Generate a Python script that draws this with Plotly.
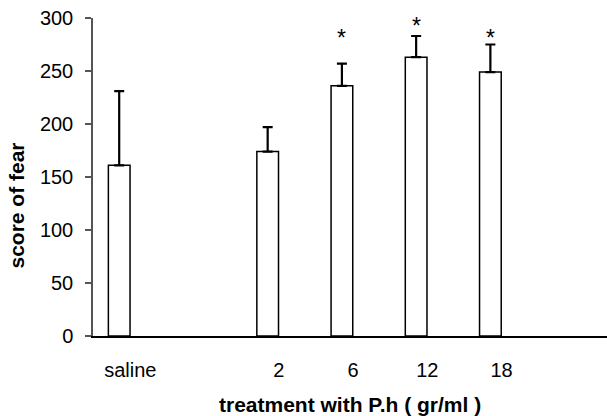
import plotly.graph_objects as go

# Data
categories = ["saline", "2", "6", "12", "18"]
positions = [0, 2, 3, 4, 5]
means = [161, 174, 236, 263, 249]
errors_up = [70, 23, 21, 20, 26]
star_labels = ["", "", "*", "*", "*"]
star_y = [None, None, 284, 295, 284]

FONT = "Liberation Sans, Arial, sans-serif"

fig = go.Figure()
fig.add_trace(go.Bar(
    x=positions, y=means, width=0.292,
    marker=dict(color="white", line=dict(color="black", width=1.5)),
    error_y=dict(type="data", symmetric=False, array=errors_up,
                 arrayminus=[0] * len(means), color="black",
                 thickness=2.2, width=5),
    showlegend=False,
))

for p, s, sy in zip(positions, star_labels, star_y):
    if s:
        fig.add_annotation(x=p, y=sy, text=s, showarrow=False,
                           xref="x", yref="y", yanchor="middle", yshift=-3,
                           font=dict(family=FONT, size=23, color="black"))

fig.add_annotation(text="<b>score of fear</b>", textangle=-90, showarrow=False,
                   xref="paper", yref="paper", x=-0.148, y=0.41,
                   xanchor="center", yanchor="middle",
                   font=dict(family=FONT, size=21, color="black"))
fig.add_annotation(text="<b>treatment with P.h ( gr/ml )</b>", showarrow=False,
                   xref="paper", yref="paper", x=0.5, y=-0.215,
                   xanchor="center", yanchor="middle",
                   font=dict(family=FONT, size=21, color="black"))

fig.update_layout(
    width=607, height=416,
    margin=dict(l=93, r=0, t=18, b=80),
    plot_bgcolor="white", paper_bgcolor="white",
    font=dict(family=FONT, size=20, color="black"),
    xaxis=dict(
        range=[-0.353, 6.571],
        tickvals=[p + 0.15 for p in positions], ticktext=categories,
        ticks="outside", ticklen=15, tickcolor="rgba(0,0,0,0)",
        showline=True, linecolor="black", linewidth=1.5,
        showgrid=False, zeroline=False,
        tickfont=dict(family=FONT, size=20, color="black"),
    ),
    yaxis=dict(
        range=[0, 300], tickvals=[0, 50, 100, 150, 200, 250, 300],
        ticks="outside", ticklen=6, tickcolor="#555555", tickwidth=1.5,
        showline=True, linecolor="#555555", linewidth=1.5,
        showgrid=False, zeroline=False,
        ticklabelstandoff=8,
        tickfont=dict(family=FONT, size=20, color="black"),
    ),
)

fig.write_html("out.html")
